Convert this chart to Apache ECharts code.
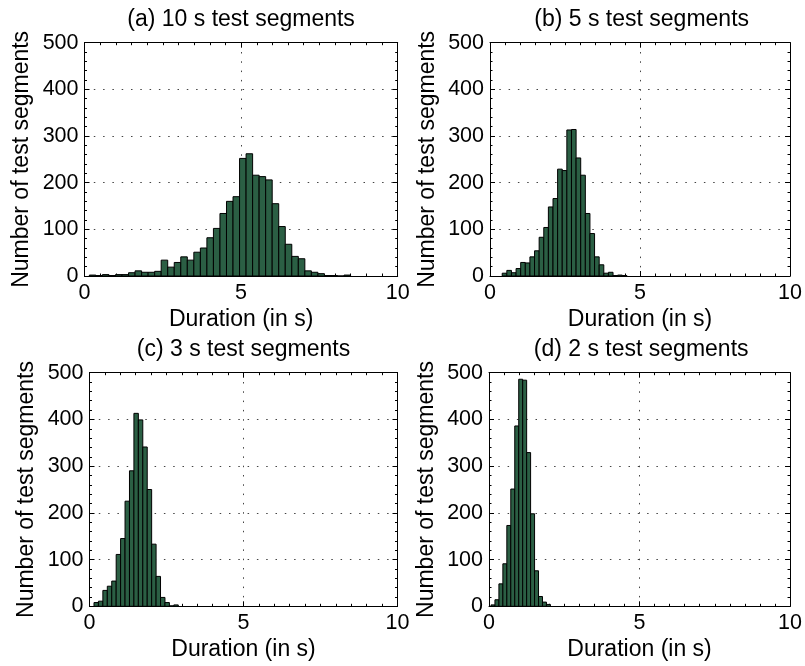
<!DOCTYPE html>
<html>
<head>
<meta charset="utf-8">
<script src="https://cdn.jsdelivr.net/npm/echarts@6/dist/echarts.min.js"></script>
<style>
html,body{margin:0;padding:0;background:#fff;}
#chart{width:805px;height:666px;}
</style>
</head>
<body>
<div id="chart"></div>
<script>
// ---- data ----
const titles = ['(a) 10 s test segments', '(b) 5 s test segments', '(c) 3 s test segments', '(d) 2 s test segments'];
const xLabel = 'Duration (in s)';
const yLabel = 'Number of test segments';
const xTickValues = [0, 5, 10];
const yTickValues = [0, 100, 200, 300, 400, 500];

// histogram: first bin edge, bin width, counts per bin
const aFirstEdge = 0.155, aBinWidth = 0.2085;
const aCounts = [2, 1, 3, 1, 3, 3, 7, 11, 8, 8, 10, 34, 19, 29, 41, 34, 51, 60, 82, 102, 134, 160, 170, 252, 262, 216, 213, 206, 155, 106, 68, 42, 37, 11, 8, 5, 1, 1, 0, 2];
const bFirstEdge = 0.407, bBinWidth = 0.1539;
const bCounts = [6, 12, 7, 16, 29, 28, 41, 54, 83, 104, 148, 166, 229, 226, 313, 314, 253, 216, 134, 91, 41, 24, 6, 8, 1, 2, 1];
const cFirstEdge = 0.146, cBinWidth = 0.144;
const cCounts = [8, 11, 34, 43, 54, 111, 145, 225, 290, 413, 399, 341, 250, 133, 64, 19, 8, 1, 3];
const dFirstEdge = 0.066, dBinWidth = 0.1316;
const dCounts = [3, 14, 48, 91, 173, 251, 386, 486, 484, 329, 198, 76, 21, 9, 4];

// ---- layout / style ----
const FONT = '"Liberation Sans", Arial, Helvetica, sans-serif';
const BAR_FILL = '#2b5f44';
const grids = [
  {left: 84.5, top: 42.7, width: 313.2, height: 233.3},
  {left: 490, top: 42.7, width: 303.3, height: 233.3},
  {left: 89.5, top: 372.7, width: 308, height: 233.6},
  {left: 489, top: 372.7, width: 304.3, height: 233.6}
];
const hist = [
  {first: aFirstEdge, w: aBinWidth, counts: aCounts},
  {first: bFirstEdge, w: bBinWidth, counts: bCounts},
  {first: cFirstEdge, w: cBinWidth, counts: cCounts},
  {first: dFirstEdge, w: dBinWidth, counts: dCounts}
];

const xMin = xTickValues[0], xMax = xTickValues[xTickValues.length - 1], xInt = xTickValues[1] - xTickValues[0];
const yMin = yTickValues[0], yMax = yTickValues[yTickValues.length - 1], yInt = yTickValues[1] - yTickValues[0];

const lineBlack = {color: '#000', width: 1};
const dotted = {type: [1.5, 7.8], color: '#444', width: 1};
const labelStyle = {color: '#000', fontSize: 21.5, fontFamily: FONT};
const nameStyle = {color: '#000', fontSize: 23, fontFamily: FONT};

const xAxes = [], yAxes = [], series = [], graphics = [];
grids.forEach((g, i) => {
  xAxes.push({
    type: 'value', gridIndex: i, min: xMin, max: xMax, interval: xInt, position: 'bottom',
    axisLine: {show: true, onZero: false, lineStyle: lineBlack},
    axisTick: {show: true, inside: true, length: 5, lineStyle: lineBlack},
    minorTick: {show: true, splitNumber: 10, length: 2.5, lineStyle: lineBlack},
    axisLabel: Object.assign({margin: 6}, labelStyle),
    splitLine: {show: true, lineStyle: dotted},
    name: xLabel, nameLocation: 'middle', nameGap: 32, nameTextStyle: nameStyle
  });
  xAxes.push({
    type: 'value', gridIndex: i, min: xMin, max: xMax, interval: xInt, position: 'top',
    axisLine: {show: true, onZero: false, lineStyle: lineBlack},
    axisTick: {show: true, inside: true, length: 5, lineStyle: lineBlack},
    minorTick: {show: true, splitNumber: 10, length: 2.5, lineStyle: lineBlack},
    axisLabel: {show: false}, splitLine: {show: false}
  });
  yAxes.push({
    type: 'value', gridIndex: i, min: yMin, max: yMax, interval: yInt, position: 'left',
    axisLine: {show: true, onZero: false, lineStyle: lineBlack},
    axisTick: {show: true, inside: true, length: 5, lineStyle: lineBlack},
    minorTick: {show: true, splitNumber: 5, length: 2.5, lineStyle: lineBlack},
    axisLabel: Object.assign({margin: 6}, labelStyle),
    splitLine: {show: true, lineStyle: dotted},
    name: yLabel, nameLocation: 'middle', nameGap: 51, nameTextStyle: nameStyle
  });
  yAxes.push({
    type: 'value', gridIndex: i, min: yMin, max: yMax, interval: yInt, position: 'right',
    axisLine: {show: true, onZero: false, lineStyle: lineBlack},
    axisTick: {show: true, inside: true, length: 5, lineStyle: lineBlack},
    minorTick: {show: true, splitNumber: 5, length: 2.5, lineStyle: lineBlack},
    axisLabel: {show: false}, splitLine: {show: false}
  });
  const h = hist[i];
  series.push({
    type: 'custom', xAxisIndex: 2 * i, yAxisIndex: 2 * i,
    data: h.counts.map((c, k) => [h.first + k * h.w, h.first + (k + 1) * h.w, c]),
    encode: {x: [0, 1], y: 2},
    clip: true,
    renderItem: (params, api) => {
      const p0 = api.coord([api.value(0), api.value(2)]);
      const p1 = api.coord([api.value(1), 0]);
      return {
        type: 'rect',
        shape: {x: p0[0], y: p0[1], width: p1[0] - p0[0], height: p1[1] - p0[1]},
        style: {fill: BAR_FILL, stroke: '#000', lineWidth: 1}
      };
    }
  });
  graphics.push({
    type: 'text', x: g.left + g.width / 2, y: g.top - 23.5,
    style: {text: titles[i], textAlign: 'center', textVerticalAlign: 'middle', font: '23px ' + FONT, fill: '#000'}
  });
});

const chart = echarts.init(document.getElementById('chart'), null, {renderer: 'canvas'});
chart.setOption({
  animation: false,
  backgroundColor: '#fff',
  grid: grids,
  xAxis: xAxes,
  yAxis: yAxes,
  series: series,
  graphic: graphics
});
</script>
</body>
</html>
